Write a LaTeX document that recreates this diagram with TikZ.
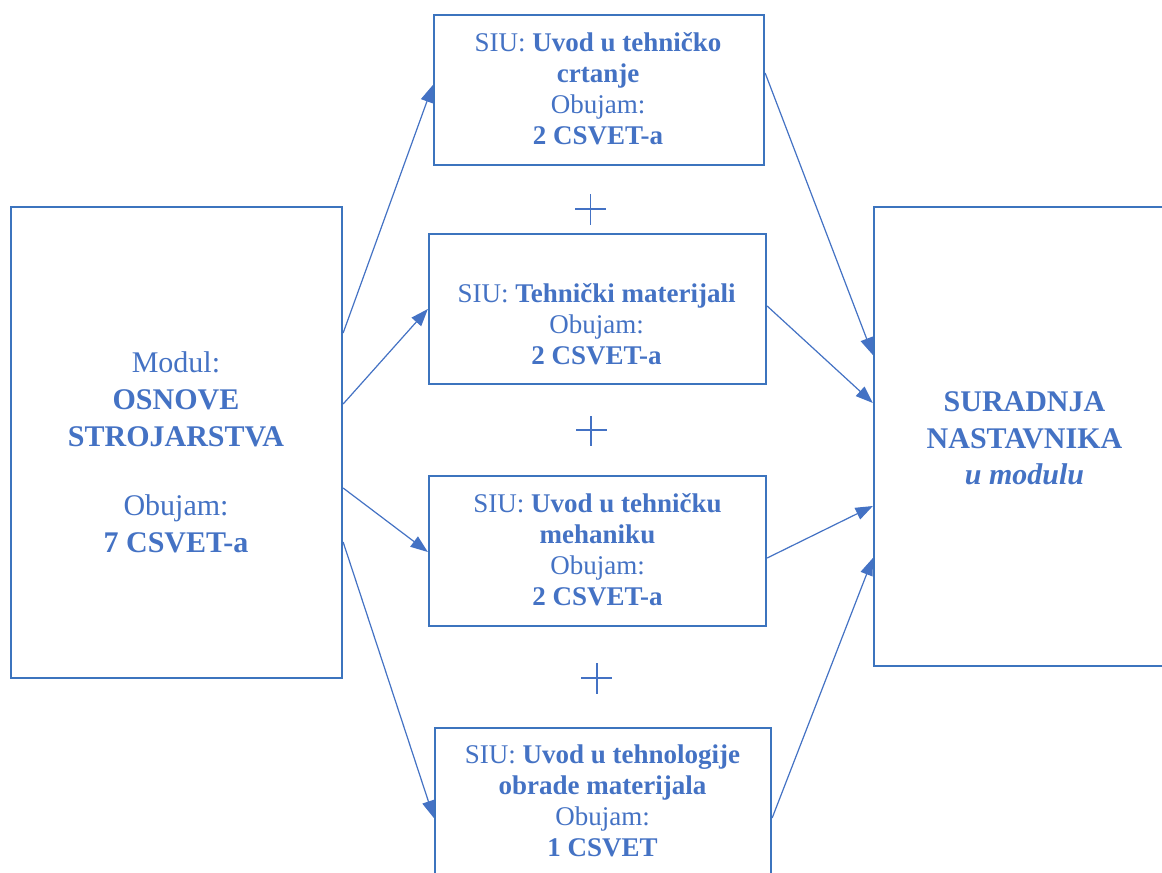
\documentclass[tikz,border=0pt]{standalone}
\usepackage{fontspec}
\setmainfont{Liberation Serif}
\usetikzlibrary{arrows.meta}
\definecolor{txtblue}{HTML}{4472C4}
\definecolor{boxblue}{HTML}{3C74BE}
\tikzset{
  box/.style={draw=boxblue, line width=1.7pt, rectangle, inner sep=0pt, fill=white},
  small/.style={text=txtblue, align=center, inner sep=0pt, font=\fontsize{20.25}{23.25}\selectfont},
  big/.style={text=txtblue, align=center, inner sep=0pt, font=\fontsize{22.5}{27.4}\selectfont},
  conn/.style={draw=txtblue, line width=0.9pt, -{Triangle[length=13pt,width=9.5pt]}},
  plus/.style={draw=txtblue, line width=1.1pt},
}
\begin{document}
\begin{tikzpicture}[x=0.75pt,y=-0.75pt]
\useasboundingbox (0,0) rectangle (1162,872);
\clip (0,0) rectangle (1162,872);
\fill[white] (0,0) rectangle (1162,872);

% boxes
\node[box, minimum width=248.25pt, minimum height=353.25pt] (left) at (176.5,442.5) {};
\node[box, minimum width=247.5pt, minimum height=112.5pt] (b1) at (599,90) {};
\node[box, minimum width=252.75pt, minimum height=112.5pt] (b2) at (597.5,309) {};
\node[box, minimum width=252.75pt, minimum height=112.5pt] (b3) at (597.5,551) {};
\node[box, minimum width=252pt, minimum height=127.5pt] (b4) at (603,813) {};
\node[box, minimum width=225.75pt, minimum height=344.25pt] (right) at (1024.5,436.5) {};

% texts
\node[big] (t0) at (176,452.5) {Modul:\\\textbf{OSNOVE}\\\textbf{STROJARSTVA}\\[25pt]Obujam:\\\textbf{7 CSVET-a}};
\node[small] (t1) at (598,89) {SIU: \textbf{Uvod u tehničko}\\\textbf{crtanje}\\Obujam:\\\textbf{2 CSVET-a}};
\node[small] (t2) at (596.5,323.7) {SIU: \textbf{Tehnički materijali}\\Obujam:\\\textbf{2 CSVET-a}};
\node[small] (t3) at (597.5,549.7) {SIU: \textbf{Uvod u tehničku}\\\textbf{mehaniku}\\Obujam:\\\textbf{2 CSVET-a}};
\node[small] (t4) at (602.5,800.7) {SIU: \textbf{Uvod u tehnologije}\\\textbf{obrade materijala}\\Obujam:\\\textbf{1 CSVET}};
\node[text=txtblue, align=center, inner sep=0pt, font=\fontsize{22.5}{27.4}\selectfont\bfseries] (t5) at (1024.5,438.5) {SURADNJA\\NASTAVNIKA\\\textit{u modulu}};

% connectors
\draw[conn] (left.east |- 0,333) -- (b1.west |- 0,85);
\draw[conn] (left.east |- 0,404) -- (b2.west |- 0,309);
\draw[conn] (left.east |- 0,488) -- (b3.west |- 0,552);
\draw[conn] (left.east |- 0,542) -- (b4.west |- 0,818);
\draw[conn] (b1.east |- 0,73) -- (right.west |- 0,355);
\draw[conn] (b2.east |- 0,306) -- (right.west |- 0,403);
\draw[conn] (b3.east |- 0,558) -- (right.west |- 0,506);
\draw[conn] (b4.east |- 0,818) -- (right.west |- 0,558);

% plus signs
\draw[plus] (575,209) -- (606,209) (590.5,194) -- (590.5,225);
\draw[plus] (576,430) -- (607,430) (591,416) -- (591,446);
\draw[plus] (581,678) -- (612,678) (597,663) -- (597,694);
\end{tikzpicture}
\end{document}
